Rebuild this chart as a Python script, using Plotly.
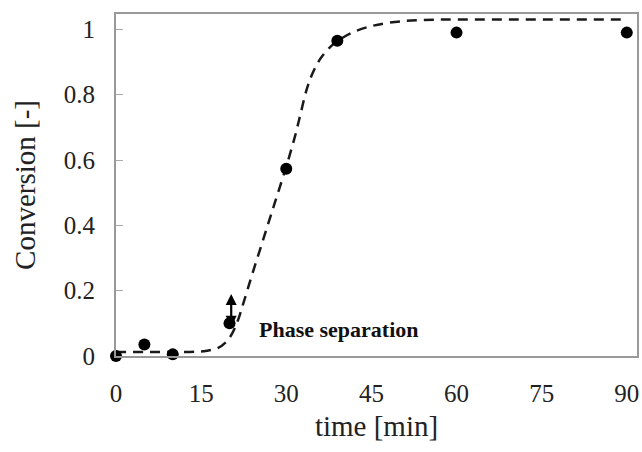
import plotly.graph_objects as go

# measured data
t_data = [0, 5, 10, 20, 30, 39, 60, 90]
conv_data = [0.0, 0.035, 0.005, 0.1, 0.573, 0.965, 0.99, 0.99]

# model (dashed) curve
t_model = [0, 5, 10, 14, 16, 18, 19.5, 20.5, 21.5, 22.5, 24, 26, 28, 30, 31.5, 32.5,
           33.5, 34.5, 36, 38, 40, 42, 45, 48, 52, 58, 70, 90]
conv_model = [0.012, 0.012, 0.012, 0.013, 0.016, 0.025, 0.045, 0.07, 0.11, 0.165, 0.25,
              0.36, 0.47, 0.58, 0.67, 0.74, 0.81, 0.86, 0.91, 0.95, 0.975, 0.993, 1.01,
              1.02, 1.027, 1.03, 1.03, 1.03]

x_ticks = [0, 15, 30, 45, 60, 75, 90]
y_ticks = [0, 0.2, 0.4, 0.6, 0.8, 1]
y_tick_labels = ["0", "0.2", "0.4", "0.6", "0.8", "1"]

arrow_x = 20.3
arrow_y0, arrow_y1 = 0.085, 0.19
label_text = "Phase separation"
label_x, label_y = 24.9, 0.08

SERIF = "Liberation Serif, Times New Roman, serif"

fig = go.Figure()
fig.add_trace(go.Scatter(x=t_model, y=conv_model, mode="lines",
                         line=dict(color="#1a1a1a", width=2.5, dash="10px,7px"),
                         line_shape="spline", showlegend=False))
fig.add_trace(go.Scatter(x=t_data, y=conv_data, mode="markers",
                         marker=dict(color="black", size=12), showlegend=False,
                         cliponaxis=False))

fig.add_annotation(x=arrow_x, y=arrow_y1, ax=arrow_x, ay=arrow_y0, xref="x", yref="y",
                   axref="x", ayref="y", showarrow=True, arrowhead=2, arrowsize=1,
                   arrowwidth=2.2, arrowcolor="black", arrowside="end+start", text="")
fig.add_annotation(x=label_x, y=label_y, xref="x", yref="y", text="<b>" + label_text + "</b>",
                   showarrow=False, xanchor="left", yanchor="middle",
                   font=dict(family=SERIF, size=22, color="#111"))

fig.update_layout(
    width=642, height=452,
    margin=dict(l=116, r=3, t=14, b=96),
    paper_bgcolor="white", plot_bgcolor="white",
    font=dict(family=SERIF, color="#222"),
)
fig.update_xaxes(range=[0, 91.8], tickvals=x_ticks, ticks="", showgrid=False, zeroline=False,
                 showline=True, linecolor="#999", linewidth=2, mirror=True,
                 tickfont=dict(family=SERIF, size=25, color="#222"), ticklabelstandoff=14,
                 title=dict(text="time [min]", font=dict(family=SERIF, size=29, color="#222"),
                            standoff=10))
fig.update_yaxes(range=[0, 1.047], tickvals=y_ticks, ticktext=y_tick_labels, ticks="inside",
                 ticklen=7, tickcolor="#aaa", tickwidth=1, showgrid=False, zeroline=False,
                 showline=True, linecolor="#999", linewidth=2, mirror=True,
                 tickfont=dict(family=SERIF, size=25, color="#222"), ticklabelstandoff=14,
                 title=dict(text="Conversion [-]", font=dict(family=SERIF, size=29, color="#222"),
                            standoff=20))

fig.write_html("out.html")
